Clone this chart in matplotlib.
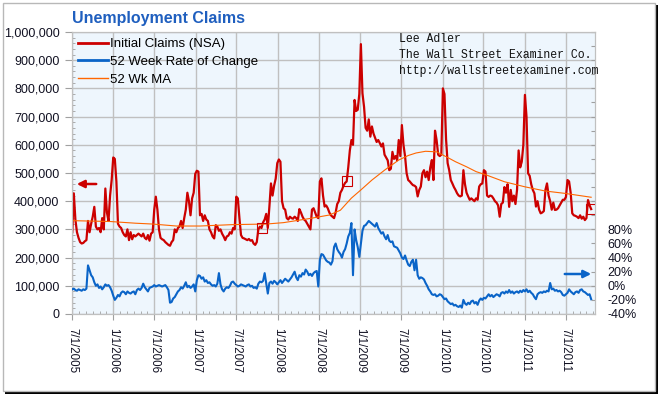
import numpy as np
import matplotlib
matplotlib.use('Agg')
import matplotlib.pyplot as plt
import matplotlib.dates as mdates
from matplotlib.patches import Rectangle
from matplotlib.ticker import MultipleLocator, FuncFormatter
from matplotlib.lines import Line2D

plt.rcParams['font.family'] = ['Liberation Sans', 'DejaVu Sans']

# weekly data, first week ending 2005-07-02
first_week = np.datetime64('2005-07-02')

# Initial Claims (NSA), thousands
claims_k = [
    290, 428, 335, 290, 270, 255, 250, 252, 258, 262,
    330, 290, 320, 345, 380, 310, 300, 305, 290, 340,
    300, 445, 360, 330, 420, 475, 555, 550, 470, 320,
    310, 305, 290, 280, 275, 300, 262, 290, 265, 280,
    275, 280, 285, 280, 275, 285, 270, 265, 280, 260,
    285, 290, 370, 416, 370, 300, 270, 265, 262, 255,
    250, 245, 242, 255, 262, 300, 290, 305, 310, 330,
    305, 340, 370, 430, 400, 350, 410, 430, 497, 508,
    505, 350, 355, 330, 350, 335, 330, 300, 290, 275,
    268, 315, 310, 295, 300, 285, 275, 262, 275, 278,
    290, 285, 305, 300, 416, 410, 340, 280, 270, 268,
    265, 262, 266, 260, 262, 250, 245, 255, 300, 310,
    305, 325, 335, 355, 305, 381, 463, 420, 455, 480,
    535, 548, 540, 400, 375, 370, 340, 335, 345, 340,
    338, 345, 340, 330, 372, 360, 345, 335, 330, 320,
    310, 300, 370, 375, 360, 345, 340, 470, 481, 420,
    381, 385, 375, 360, 350, 345, 340, 360, 390, 400,
    430, 440, 455, 465, 470, 520, 580, 617, 600, 759,
    720, 724, 780, 957, 783, 735, 660, 650, 690, 629,
    665, 640, 625, 610, 617, 606, 594, 605, 565, 555,
    545, 510, 515, 575, 550, 560, 545, 617, 560, 670,
    600, 560, 499, 475, 470, 463, 457, 455, 450, 417,
    440, 452, 499, 510, 485, 505, 475, 520, 546, 475,
    650, 617, 565, 560, 565, 800, 780, 620, 535, 510,
    475, 463, 450, 440, 428, 420, 417, 420, 510, 460,
    430, 417, 405, 410, 405, 400, 410, 405, 452, 460,
    463, 510, 505, 420, 415, 420, 418, 410, 400, 395,
    385, 345, 390, 395, 450, 430, 460, 380, 440, 400,
    420, 390, 440, 580, 520, 540, 600, 777, 700, 499,
    490, 460, 440, 428, 381, 400, 370, 357, 360, 365,
    440, 463, 420, 400, 370, 395, 369, 370, 375, 385,
    395, 405, 405, 415, 475, 470, 430, 357, 350, 348,
    345, 340, 350, 338, 345, 333, 340, 404, 385, 372,
]

# 52 Week Rate of Change, percent
roc_pct = [
    -5, -4, -6, -7, -5, -6, -7, -5, -6, -4,
    29, 22, 15, 12, 5, 0, 2, -3, -1, -5,
    -2, 2, 0, 1, -2, -7, -14, -20, -17, -13,
    -15, -10, -8, -9, -12, -8, -10, -11, -9, -8,
    -12, -6, -4, -6, -3, 3, -2, -5, -8, -3,
    -2, -1, 1, -1, 0, 1, 0, -1, 0, 1,
    -2, -6, -24, -23, -18, -16, -12, -8, -6, -2,
    -4, 0, 5, -2, 0, -3, -1, 2, -8, 8,
    15, 14, 10, 12, 6, 8, 4, 5, 2, 0,
    1, -1, 3, 18, 2, -5, -8, -4, -2, -3,
    0, 5, 6, 3, 1, -1, 0, 2, 1, 0,
    -1, 1, 2, -1, 0, -3, -2, -4, 3, 6,
    5, 7, 18, 3, -11, 4, 6, 3, 7, 5,
    2, 5, 8, 4, 7, 10, 8, 6, 9, 12,
    16, 20, 12, 8, 15, 13, 18, 16, 23, 20,
    15, 17, 14, 18, 20, 21, -1, 37, 45, 44,
    40, 36, 34, 33, 30, 35, 55, 60, 52, 48,
    45, 40, 48, 52, 60, 70, 75, 89, 15, 80,
    65, 55, 41, 60, 78, 85, 86, 89, 92, 90,
    88, 86, 84, 89, 82, 78, 74, 76, 70, 66,
    72, 64, 62, 63, 56, 55, 54, 50, 46, 40,
    38, 43, 36, 30, 28, 34, 37, 22, 37, 15,
    10, 12, 11, 9, 4, 0, -5, -8, -12, -13,
    -12, -15, -14, -12, -13, -16, -19, -18, -22, -24,
    -26, -25, -28, -27, -29, -30, -28, -31, -20, -25,
    -27, -24, -26, -22, -21, -25, -23, -27, -21, -18,
    -20, -17, -18, -15, -12, -15, -13, -16, -14, -12,
    -13, -15, -10, -9, -11, -8, -10, -6, -10, -8,
    -11, -9, -8, -10, -7, -9, -6, -8, -5, -9,
    -7, -10, -12, -16, -19, -12, -10, -9, -10, -8,
    -9, -7, -8, 4, -5, -4, -7, -6, -8, -7,
    -9, -13, -14, -12, -10, -5, -8, -10, -12, -9,
    -8, -10, -6, -5, -8, -9, -11, -13, -12, -19,
]

# 52 Wk MA, read at selected weeks (week index, thousands)
ma_week = [0, 24, 40, 51, 66, 81, 102, 123, 134, 151, 163, 170, 177, 183,
           190, 198, 207, 213, 218, 224, 231, 237, 243, 250, 256, 263, 274,
           287, 300, 312, 329]
ma_k = [331, 328, 322, 319, 312, 312, 317, 319, 324, 339, 351, 368, 411, 440,
        475, 510, 546, 562, 571, 577, 575, 558, 540, 522, 505, 492, 469,
        451, 436, 428, 414]

# boxed points on the claims line
marked_week = [120, 174, 329]

RED = '#cc0000'
BLUE = '#0a64c8'
ORANGE = '#ff6600'
GRID = '#c0c0c0'

weeks = first_week + np.arange(len(claims_k)) * np.timedelta64(7, 'D')
claims = np.array(claims_k) * 1000
ma_dates = first_week + np.array(ma_week) * np.timedelta64(7, 'D')

W, H = 661, 396
fig = plt.figure(figsize=(W / 100, H / 100), dpi=100)
fig.patch.set_facecolor('white')

# frame with shadow
fig.patches.append(Rectangle((5 / W, 2 / H), 653 / W, 3 / H, transform=fig.transFigure,
                             facecolor='black', edgecolor='none'))
fig.patches.append(Rectangle((655 / W, 2 / H), 3 / W, 389 / H, transform=fig.transFigure,
                             facecolor='black', edgecolor='none'))
fig.patches.append(Rectangle((3 / W, 5 / H), 652 / W, 388 / H, transform=fig.transFigure,
                             facecolor='none', edgecolor='#b8b8b8', lw=1))

ax = fig.add_axes([72 / W, 1 - 314 / H, 523 / W, 282 / H])
ax.set_facecolor('#eef6fd')

ax.plot(weeks, claims, color=RED, lw=1.6, zorder=3)
ax.plot(ma_dates, np.array(ma_k) * 1000, color=ORANGE, lw=0.8, zorder=4)
ax.plot(weeks[marked_week], claims[marked_week], ls='none', marker='s', ms=7,
        mfc='none', mec=RED, mew=0.8, zorder=5, clip_on=True)

ax.set_ylim(0, 1000000)
ax.set_xlim(np.datetime64('2005-07-01'), np.datetime64('2011-11-08'))
ax.yaxis.set_major_locator(MultipleLocator(100000))
ax.yaxis.set_minor_locator(MultipleLocator(20000))
ax.yaxis.set_major_formatter(FuncFormatter(lambda v, p: f'{v:,.0f}'))
ax.xaxis.set_major_locator(mdates.MonthLocator(bymonth=[1, 7]))
ax.xaxis.set_minor_locator(mdates.MonthLocator())


def date_label(v, pos):
    d = mdates.num2date(v)
    return f'{d.month}/{d.day}/{d.year}'


ax.xaxis.set_major_formatter(FuncFormatter(date_label))
ax.grid(True, which='major', color=GRID, lw=1)
for s in ax.spines.values():
    s.set_color(GRID)
ax.tick_params(axis='y', which='major', length=5, color='#a0a0a0', labelsize=9,
               labelcolor='#111122', pad=4)
ax.tick_params(axis='y', which='minor', length=2, direction='in', color='#a0a0a0')
ax.tick_params(axis='x', which='major', length=4, color='#a0a0a0', labelsize=8.3,
               labelcolor='#111122', labelrotation=-90, pad=6)
ax.tick_params(axis='x', which='minor', length=2, direction='in', color='#a0a0a0')
for lab in ax.get_xticklabels():
    lab.set_va('top')

ax2 = ax.twinx()
ax2.plot(weeks, roc_pct, color=BLUE, lw=1.5, zorder=3)
ax2.set_ylim(-40, 360)
ax2.yaxis.set_major_locator(MultipleLocator(20))
ax2.yaxis.set_major_formatter(FuncFormatter(lambda v, p: f'{v:.0f}%' if v <= 80 else ''))
ax2.tick_params(axis='y', length=3, direction='in', color='#a0a0a0', labelsize=9,
                labelcolor='#111122', pad=9)
for s in ax2.spines.values():
    s.set_color(GRID)

handles = [Line2D([], [], color=RED, lw=2),
           Line2D([], [], color=BLUE, lw=2),
           Line2D([], [], color=ORANGE, lw=1)]
ax2.legend(handles, ['Initial Claims (NSA)', '52 Week Rate of Change', '52 Wk MA'],
           loc='upper left', frameon=False, fontsize=9.5, handlelength=2.3,
           handletextpad=0.15, labelspacing=0.42, borderaxespad=0.2, borderpad=0.25)

fig.text(72 / W, 1 - 18 / H, 'Unemployment Claims', ha='left', va='center',
         fontsize=11.5, fontweight='bold', color='#1f5fbf')

for i, line in enumerate(['Lee Adler', 'The Wall Street Examiner Co.',
                          'http://wallstreetexaminer.com']):
    fig.text(399 / W, 1 - (39 + 16 * i) / H, line, ha='left', va='center',
             family='Liberation Mono', fontsize=8.3, color='#111111')

# direction arrows
ax.annotate('', xy=(74, H - 184), xytext=(99, H - 184), xycoords='figure pixels',
            textcoords='figure pixels',
            arrowprops=dict(arrowstyle='-|>', color=RED, lw=1.8, mutation_scale=11))
ax.annotate('', xy=(594, H - 274), xytext=(562, H - 274), xycoords='figure pixels',
            textcoords='figure pixels',
            arrowprops=dict(arrowstyle='-|>', color=BLUE, lw=1.8, mutation_scale=11))

fig.savefig('out.png', dpi=100)
